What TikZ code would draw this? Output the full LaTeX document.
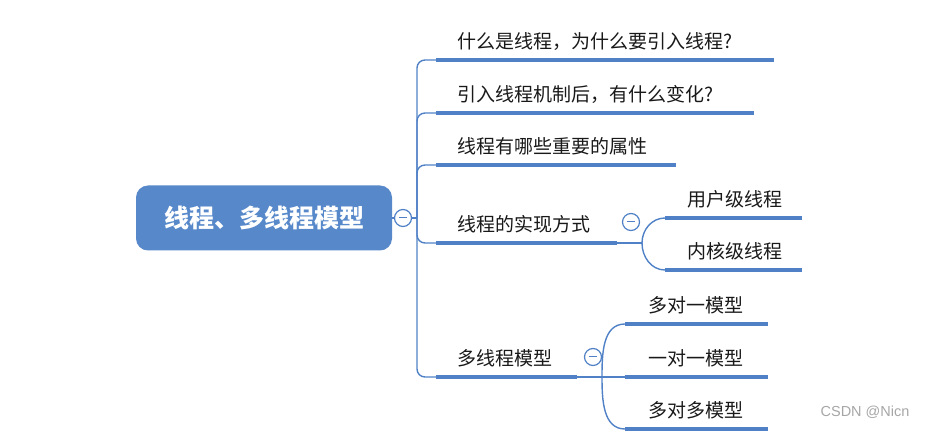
\documentclass[tikz,border=0pt]{standalone}
\usepackage{fontspec}
\newfontfamily\cjk{Noto Sans CJK SC}
\newfontfamily\wmfont{Liberation Sans}
\definecolor{mapblue}{RGB}{80,129,198}
\definecolor{rootblue}{RGB}{86,136,202}
\definecolor{textgray}{RGB}{25,25,25}

\tikzset{
  topic/.style={anchor=south west, inner xsep=0pt, inner ysep=7pt, text height=14pt, text depth=4pt,
    text width=#1, align=left, text=textgray, font=\cjk\fontsize{19}{19}\selectfont},
  root/.style={rounded corners=12pt, fill=rootblue, minimum width=256pt, minimum height=65pt,
    text=white, font=\cjk\bfseries\fontsize{25}{25}\selectfont},
  uline/.style={mapblue, line width=4pt},
  conn/.style={mapblue, line width=1.4pt},
  fold/.style={circle, draw=mapblue, fill=white, line width=1.2pt, minimum size=17pt, inner sep=0pt,
    path picture={\draw[mapblue, line width=1pt] ([xshift=-4pt]path picture bounding box.center)
      -- ([xshift=4pt]path picture bounding box.center);}},
}

\begin{document}
\begin{tikzpicture}[x=1pt, y=-1pt]
\useasboundingbox (0,0) rectangle (929,435);

\node[root] (root) at (264,218) {线程、多线程模型};
\node[fold] (f0) at (403,218) {};
\coordinate (tk) at (417,218);

% first level
\node[topic=338] (t1) at (436,60) {\hspace*{21pt}什么是线程，为什么要引入线程?};
\node[topic=318] (t2) at (436,113) {\hspace*{21pt}引入线程机制后，有什么变化?};
\node[topic=240] (t3) at (436,165) {\hspace*{21pt}线程有哪些重要的属性};
\node[topic=181] (t4) at (436,243) {\hspace*{21pt}线程的实现方式};
\node[topic=141] (t5) at (436,377) {\hspace*{21pt}多线程模型};

\node[fold] (f4) at (631,222) {};
\node[fold] (f5) at (593,357) {};
\coordinate (j4) at (642,243);
\coordinate (j5) at (602,377);

% second level
\node[topic=137] (s1) at (665,218) {\hspace*{22pt}用户级线程};
\node[topic=137] (s2) at (665,270) {\hspace*{22pt}内核级线程};
\node[topic=143] (m1) at (625,324) {\hspace*{23pt}多对一模型};
\node[topic=143] (m2) at (625,377) {\hspace*{23pt}一对一模型};
\node[topic=143] (m3) at (625,429) {\hspace*{23pt}多对多模型};

\foreach \n in {t1,t2,t3,t4,t5,s1,s2,m1,m2,m3}
  \draw[uline] (\n.south west) -- (\n.south east);

\draw[conn] (root.east) -- (f0.west);
\draw[conn] (f0.east) -- (tk);
\draw[conn, rounded corners=8pt] (t1.south west) -| (tk) |- (t5.south west);
\draw[conn, rounded corners=8pt] (tk) |- (t2.south west);
\draw[conn, rounded corners=8pt] (tk) |- (t3.south west);
\draw[conn, rounded corners=8pt] (tk) |- (t4.south west);

\draw[conn] (t4.south east) -- (j4);
\draw[conn] (j4) to[out=90, in=180] (s1.south west);
\draw[conn] (j4) to[out=-90, in=180] (s2.south west);

\draw[conn] (t5.south east) -- (j5);
\draw[conn] (j5) to[out=90, in=180] (m1.south west);
\draw[conn] (j5) -- (m2.south west);
\draw[conn] (j5) to[out=-90, in=180] (m3.south west);

\node[text=black!35, font=\wmfont\fontsize{14.5}{14.5}\selectfont, anchor=east] (wm) at (913,412) {CSDN @Nicn};
\end{tikzpicture}
\end{document}
